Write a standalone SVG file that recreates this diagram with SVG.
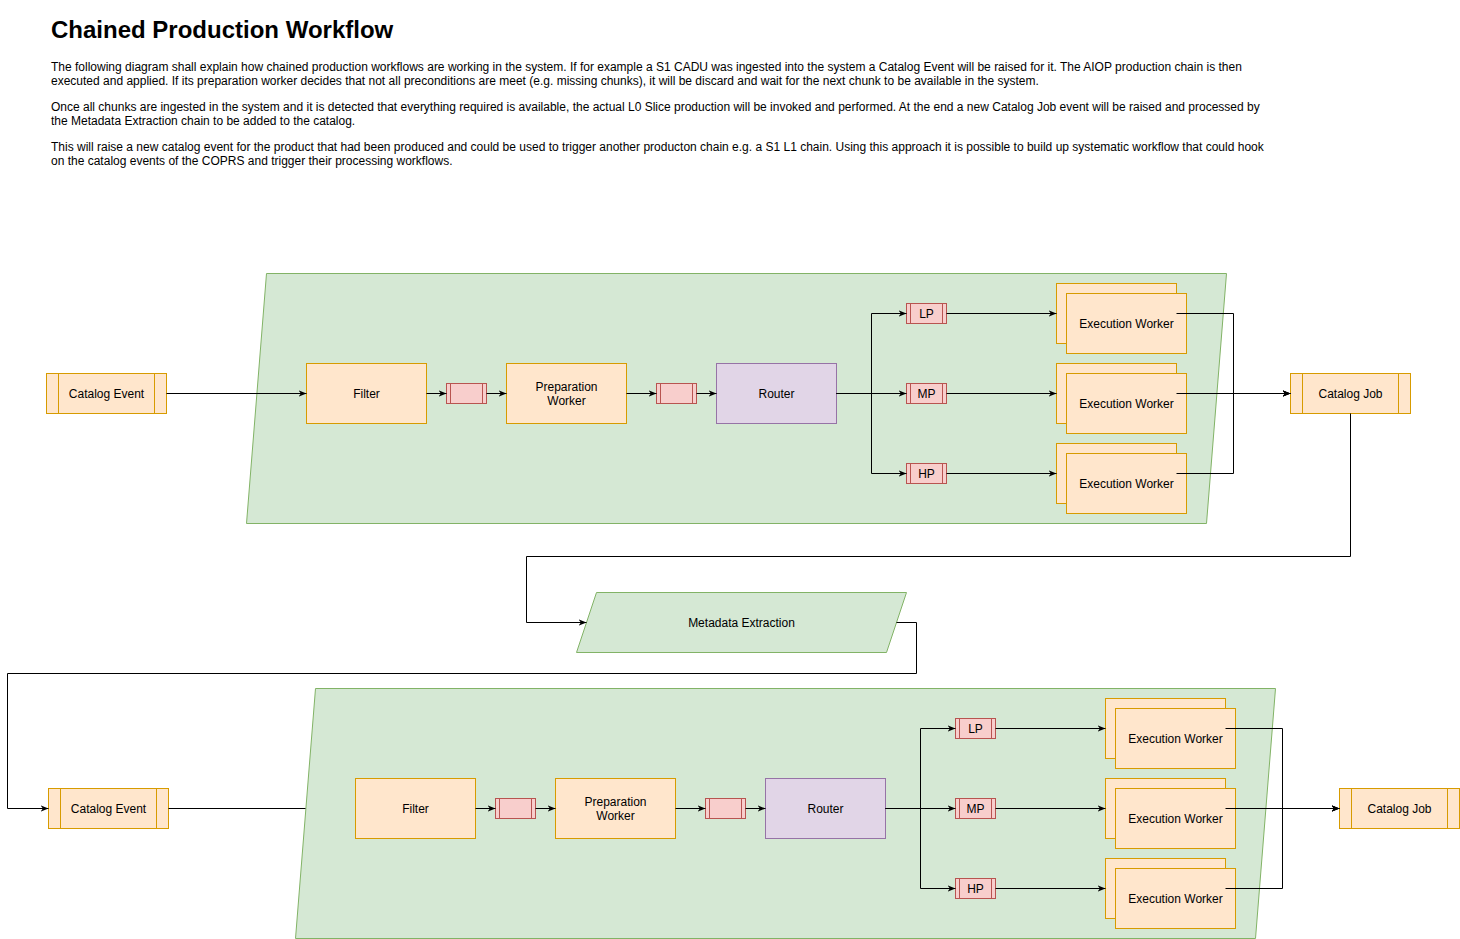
<svg xmlns="http://www.w3.org/2000/svg" width="1460" height="939" viewBox="0 0 1460 939">
<defs>
<style>
text{font-family:"Liberation Sans",Arial,Helvetica,sans-serif;fill:#000;}
.t{font-size:12px;text-anchor:middle;}
.p{font-size:12px;}
.title{font-size:24px;font-weight:bold;}
.grp{fill:#d5e8d4;stroke:#82b366;stroke-width:1;}
.proc{fill:#ffe6cc;stroke:#d79b00;stroke-width:1;}
.q{fill:#f8cecc;stroke:#b85450;stroke-width:1;}
.rt{fill:#e1d5e7;stroke:#9673a6;stroke-width:1;}
.ln{fill:none;stroke:#000;stroke-width:1;}
.a{marker-end:url(#arr);}
</style>
<marker id="arr" viewBox="0 0 10 10" refX="10" refY="5" markerWidth="8" markerHeight="8" markerUnits="userSpaceOnUse" orient="auto">
<path d="M0,1 L10,5 L0,9 L3,5 Z" fill="#000"/>
</marker>
</defs>
<rect x="0" y="0" width="1460" height="939" fill="#fff"/>

<g id="header">
<text class="title" x="51" y="38">Chained Production Workflow</text>
<text class="p" x="51" y="71">The following diagram shall explain how chained production workflows are working in the system. If for example a S1 CADU was ingested into the system a Catalog Event will be raised for it. The AIOP production chain is then</text>
<text class="p" x="51" y="85">executed and applied. If its preparation worker decides that not all preconditions are meet (e.g. missing chunks), it will be discard and wait for the next chunk to be available in the system.</text>
<text class="p" x="51" y="111">Once all chunks are ingested in the system and it is detected that everything required is available, the actual L0 Slice production will be invoked and performed. At the end a new Catalog Job event will be raised and processed by</text>
<text class="p" x="51" y="125">the Metadata Extraction chain to be added to the catalog.</text>
<text class="p" x="51" y="151">This will raise a new catalog event for the product that had been produced and could be used to trigger another producton chain e.g. a S1 L1 chain. Using this approach it is possible to build up systematic workflow that could hook</text>
<text class="p" x="51" y="165">on the catalog events of the COPRS and trigger their processing workflows.</text>
</g>

<!-- Top chain -->
<g id="chain1">
<polygon class="grp" points="266.5,273.5 1226.5,273.5 1206.5,523.5 246.5,523.5"/>
</g>
<g id="catalogEvent1">
<rect class="proc" x="46.5" y="373.5" width="120" height="40"/>
<line class="ln" x1="58.5" y1="373.5" x2="58.5" y2="413.5" style="stroke:#d79b00"/>
<line class="ln" x1="154.5" y1="373.5" x2="154.5" y2="413.5" style="stroke:#d79b00"/>
<text class="t" x="106.5" y="397.5">Catalog Event</text>
</g>
<g id="filter1">
<rect class="proc" x="306.5" y="363.5" width="120" height="60"/>
<text class="t" x="366.5" y="397.5">Filter</text>
</g>
<g id="queue1a">
<rect class="q" x="446.5" y="383.5" width="40" height="20"/>
<line class="ln" x1="450.5" y1="383.5" x2="450.5" y2="403.5" style="stroke:#b85450"/>
<line class="ln" x1="482.5" y1="383.5" x2="482.5" y2="403.5" style="stroke:#b85450"/>
</g>
<g id="prep1">
<rect class="proc" x="506.5" y="363.5" width="120" height="60"/>
<text class="t" x="566.5" y="390.5">Preparation</text>
<text class="t" x="566.5" y="404.5">Worker</text>
</g>
<g id="queue1b">
<rect class="q" x="656.5" y="383.5" width="40" height="20"/>
<line class="ln" x1="660.5" y1="383.5" x2="660.5" y2="403.5" style="stroke:#b85450"/>
<line class="ln" x1="692.5" y1="383.5" x2="692.5" y2="403.5" style="stroke:#b85450"/>
</g>
<g id="router1">
<rect class="rt" x="716.5" y="363.5" width="120" height="60"/>
<text class="t" x="776.5" y="397.5">Router</text>
</g>
<g id="lp1">
<rect class="q" x="906.5" y="303.5" width="40" height="20"/>
<line class="ln" x1="910.5" y1="303.5" x2="910.5" y2="323.5" style="stroke:#b85450"/>
<line class="ln" x1="942.5" y1="303.5" x2="942.5" y2="323.5" style="stroke:#b85450"/>
<text class="t" x="926.5" y="317.5">LP</text>
</g>
<g id="mp1">
<rect class="q" x="906.5" y="383.5" width="40" height="20"/>
<line class="ln" x1="910.5" y1="383.5" x2="910.5" y2="403.5" style="stroke:#b85450"/>
<line class="ln" x1="942.5" y1="383.5" x2="942.5" y2="403.5" style="stroke:#b85450"/>
<text class="t" x="926.5" y="397.5">MP</text>
</g>
<g id="hp1">
<rect class="q" x="906.5" y="463.5" width="40" height="20"/>
<line class="ln" x1="910.5" y1="463.5" x2="910.5" y2="483.5" style="stroke:#b85450"/>
<line class="ln" x1="942.5" y1="463.5" x2="942.5" y2="483.5" style="stroke:#b85450"/>
<text class="t" x="926.5" y="477.5">HP</text>
</g>
<g id="ew1a">
<rect class="proc" x="1056.5" y="283.5" width="120" height="60"/>
<rect class="proc" x="1066.5" y="293.5" width="120" height="60"/>
<text class="t" x="1126.5" y="327.5">Execution Worker</text>
</g>
<g id="ew1b">
<rect class="proc" x="1056.5" y="363.5" width="120" height="60"/>
<rect class="proc" x="1066.5" y="373.5" width="120" height="60"/>
<text class="t" x="1126.5" y="407.5">Execution Worker</text>
</g>
<g id="ew1c">
<rect class="proc" x="1056.5" y="443.5" width="120" height="60"/>
<rect class="proc" x="1066.5" y="453.5" width="120" height="60"/>
<text class="t" x="1126.5" y="487.5">Execution Worker</text>
</g>
<g id="catalogJob1">
<rect class="proc" x="1290.5" y="373.5" width="120" height="40"/>
<line class="ln" x1="1302.5" y1="373.5" x2="1302.5" y2="413.5" style="stroke:#d79b00"/>
<line class="ln" x1="1398.5" y1="373.5" x2="1398.5" y2="413.5" style="stroke:#d79b00"/>
<text class="t" x="1350.5" y="397.5">Catalog Job</text>
</g>

<g id="metadataExtraction">
<polygon class="grp" points="596.5,592.5 906.5,592.5 886.5,652.5 576.5,652.5"/>
<text class="t" x="741.5" y="626.5">Metadata Extraction</text>
</g>

<!-- Bottom chain -->
<g id="chain2">
<polygon class="grp" points="315.5,688.5 1275.5,688.5 1255.5,938.5 295.5,938.5"/>
</g>
<g id="catalogEvent2">
<rect class="proc" x="48.5" y="788.5" width="120" height="40"/>
<line class="ln" x1="60.5" y1="788.5" x2="60.5" y2="828.5" style="stroke:#d79b00"/>
<line class="ln" x1="156.5" y1="788.5" x2="156.5" y2="828.5" style="stroke:#d79b00"/>
<text class="t" x="108.5" y="812.5">Catalog Event</text>
</g>
<g id="filter2">
<rect class="proc" x="355.5" y="778.5" width="120" height="60"/>
<text class="t" x="415.5" y="812.5">Filter</text>
</g>
<g id="queue2a">
<rect class="q" x="495.5" y="798.5" width="40" height="20"/>
<line class="ln" x1="499.5" y1="798.5" x2="499.5" y2="818.5" style="stroke:#b85450"/>
<line class="ln" x1="531.5" y1="798.5" x2="531.5" y2="818.5" style="stroke:#b85450"/>
</g>
<g id="prep2">
<rect class="proc" x="555.5" y="778.5" width="120" height="60"/>
<text class="t" x="615.5" y="805.5">Preparation</text>
<text class="t" x="615.5" y="819.5">Worker</text>
</g>
<g id="queue2b">
<rect class="q" x="705.5" y="798.5" width="40" height="20"/>
<line class="ln" x1="709.5" y1="798.5" x2="709.5" y2="818.5" style="stroke:#b85450"/>
<line class="ln" x1="741.5" y1="798.5" x2="741.5" y2="818.5" style="stroke:#b85450"/>
</g>
<g id="router2">
<rect class="rt" x="765.5" y="778.5" width="120" height="60"/>
<text class="t" x="825.5" y="812.5">Router</text>
</g>
<g id="lp2">
<rect class="q" x="955.5" y="718.5" width="40" height="20"/>
<line class="ln" x1="959.5" y1="718.5" x2="959.5" y2="738.5" style="stroke:#b85450"/>
<line class="ln" x1="991.5" y1="718.5" x2="991.5" y2="738.5" style="stroke:#b85450"/>
<text class="t" x="975.5" y="732.5">LP</text>
</g>
<g id="mp2">
<rect class="q" x="955.5" y="798.5" width="40" height="20"/>
<line class="ln" x1="959.5" y1="798.5" x2="959.5" y2="818.5" style="stroke:#b85450"/>
<line class="ln" x1="991.5" y1="798.5" x2="991.5" y2="818.5" style="stroke:#b85450"/>
<text class="t" x="975.5" y="812.5">MP</text>
</g>
<g id="hp2">
<rect class="q" x="955.5" y="878.5" width="40" height="20"/>
<line class="ln" x1="959.5" y1="878.5" x2="959.5" y2="898.5" style="stroke:#b85450"/>
<line class="ln" x1="991.5" y1="878.5" x2="991.5" y2="898.5" style="stroke:#b85450"/>
<text class="t" x="975.5" y="892.5">HP</text>
</g>
<g id="ew2a">
<rect class="proc" x="1105.5" y="698.5" width="120" height="60"/>
<rect class="proc" x="1115.5" y="708.5" width="120" height="60"/>
<text class="t" x="1175.5" y="742.5">Execution Worker</text>
</g>
<g id="ew2b">
<rect class="proc" x="1105.5" y="778.5" width="120" height="60"/>
<rect class="proc" x="1115.5" y="788.5" width="120" height="60"/>
<text class="t" x="1175.5" y="822.5">Execution Worker</text>
</g>
<g id="ew2c">
<rect class="proc" x="1105.5" y="858.5" width="120" height="60"/>
<rect class="proc" x="1115.5" y="868.5" width="120" height="60"/>
<text class="t" x="1175.5" y="902.5">Execution Worker</text>
</g>
<g id="catalogJob2">
<rect class="proc" x="1339.5" y="788.5" width="120" height="40"/>
<line class="ln" x1="1351.5" y1="788.5" x2="1351.5" y2="828.5" style="stroke:#d79b00"/>
<line class="ln" x1="1447.5" y1="788.5" x2="1447.5" y2="828.5" style="stroke:#d79b00"/>
<text class="t" x="1399.5" y="812.5">Catalog Job</text>
</g>

<g id="connectors">
<path class="ln a" d="M166.5,393.5 L306.5,393.5"/>
<path class="ln a" d="M426.5,393.5 L446.5,393.5"/>
<path class="ln a" d="M486.5,393.5 L506.5,393.5"/>
<path class="ln a" d="M626.5,393.5 L656.5,393.5"/>
<path class="ln a" d="M696.5,393.5 L716.5,393.5"/>
<path class="ln a" d="M836.5,393.5 L871.5,393.5 L871.5,313.5 L906.5,313.5"/>
<path class="ln a" d="M836.5,393.5 L906.5,393.5"/>
<path class="ln a" d="M836.5,393.5 L871.5,393.5 L871.5,473.5 L906.5,473.5"/>
<path class="ln a" d="M946.5,313.5 L1056.5,313.5"/>
<path class="ln a" d="M946.5,393.5 L1056.5,393.5"/>
<path class="ln a" d="M946.5,473.5 L1056.5,473.5"/>
<path class="ln a" d="M1176.5,313.5 L1233.5,313.5 L1233.5,393.5 L1290.5,393.5"/>
<path class="ln a" d="M1176.5,393.5 L1290.5,393.5"/>
<path class="ln a" d="M1176.5,473.5 L1233.5,473.5 L1233.5,393.5 L1290.5,393.5"/>
<path class="ln a" d="M1350.5,413.5 L1350.5,556.5 L526.5,556.5 L526.5,622.5 L586.5,622.5"/>
<path class="ln a" d="M896.5,622.5 L916.5,622.5 L916.5,673.5 L7.5,673.5 L7.5,808.5 L48.5,808.5"/>
<path class="ln" d="M168.5,808.5 L305.5,808.5"/>
<path class="ln a" d="M475.5,808.5 L495.5,808.5"/>
<path class="ln a" d="M535.5,808.5 L555.5,808.5"/>
<path class="ln a" d="M675.5,808.5 L705.5,808.5"/>
<path class="ln a" d="M745.5,808.5 L765.5,808.5"/>
<path class="ln a" d="M885.5,808.5 L920.5,808.5 L920.5,728.5 L955.5,728.5"/>
<path class="ln a" d="M885.5,808.5 L955.5,808.5"/>
<path class="ln a" d="M885.5,808.5 L920.5,808.5 L920.5,888.5 L955.5,888.5"/>
<path class="ln a" d="M995.5,728.5 L1105.5,728.5"/>
<path class="ln a" d="M995.5,808.5 L1105.5,808.5"/>
<path class="ln a" d="M995.5,888.5 L1105.5,888.5"/>
<path class="ln a" d="M1225.5,728.5 L1282.5,728.5 L1282.5,808.5 L1339.5,808.5"/>
<path class="ln a" d="M1225.5,808.5 L1339.5,808.5"/>
<path class="ln a" d="M1225.5,888.5 L1282.5,888.5 L1282.5,808.5 L1339.5,808.5"/>
</g>
</svg>
